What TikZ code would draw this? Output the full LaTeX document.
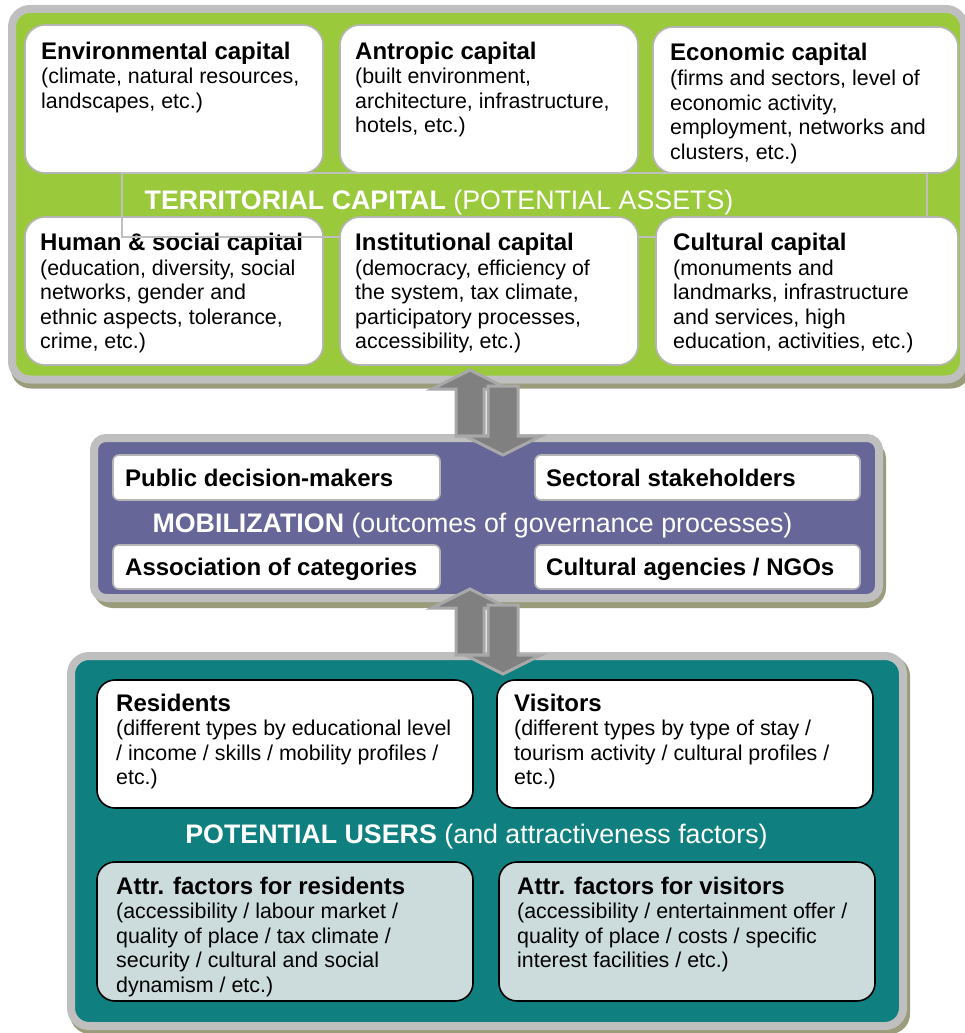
\documentclass[tikz,border=0pt]{standalone}
\usepackage{fontspec}
\setmainfont{Liberation Sans}
\definecolor{tgreen}{HTML}{9ACA3C}
\definecolor{tpurple}{HTML}{666699}
\definecolor{tteal}{HTML}{0F807F}
\definecolor{tgrey}{HTML}{BFBFBF}
\definecolor{tshadow}{HTML}{9A9C7B}
\definecolor{tboxline}{HTML}{B5B5B5}
\definecolor{tattr}{HTML}{CCDCDC}
\definecolor{tarrow}{HTML}{808080}
\definecolor{tarrowline}{HTML}{A8A8A8}
\newcommand\ttlf{\fontsize{24}{24.5}\selectfont\bfseries}
\newcommand\bdyf{\fontsize{21.4}{24.5}\selectfont\mdseries}
\newcommand\banf{\fontsize{26.8}{30}\selectfont}
\tikzset{
  panel/.style={draw=tgrey, line width=8pt, rounded corners=18pt, inner sep=0pt, outer sep=0pt},
  shadowp/.style={fill=tshadow, rounded corners=20pt, inner sep=0pt, outer sep=0pt},
  capbox/.style={draw=tboxline, line width=1.6pt, fill=white, rounded corners=20pt, inner sep=0pt},
  mobbox/.style={draw=tboxline, line width=1.6pt, fill=white, rounded corners=6pt, inner sep=0pt},
  userbox/.style={draw=black, line width=1.6pt, fill=white, rounded corners=18pt, inner sep=0pt},
  attrbox/.style={userbox, fill=tattr},
  txt/.style={anchor=base west, inner sep=0pt, align=left},
  bantxt/.style={anchor=base, inner sep=0pt, text=white},
  blockarrow/.style={fill=tarrow, draw=tarrowline, line width=3pt, line join=miter},
}
\begin{document}
\begin{tikzpicture}[x=1pt,y=-1pt]
\useasboundingbox (0,0) rectangle (965,1033);
% ---------- TOP PANEL ----------
\node[shadowp, minimum width=960pt, minimum height=378.5pt] (topsh) at (491,199.25) {};
\node[panel, fill=tgreen, minimum width=952pt, minimum height=370.5pt] (top) at (488,194.25) {};
\node[capbox, minimum width=298pt, minimum height=148pt] (env) at (174,99) {};
\node[capbox, minimum width=298pt, minimum height=148pt] (antr) at (489,99) {};
\node[capbox, minimum width=305pt, minimum height=146pt] (econ) at (805.5,100) {};
\node[capbox, minimum width=298pt, minimum height=148pt] (human) at (174,291) {};
\node[txt] (envT) at (41,59.5) {\parbox[t]{290pt}{\ttlf Environmental capital\\ \bdyf (climate, natural resources,\\ landscapes, etc.)}};
\node[txt] (antrT) at (355,59.5) {\parbox[t]{290pt}{\ttlf Antropic capital\\ \bdyf (built environment,\\ architecture, infrastructure,\\ hotels, etc.)}};
\node[txt] (econT) at (670,61) {\parbox[t]{290pt}{\ttlf Economic capital\\ \bdyf (firms and sectors, level of\\ economic activity,\\ employment, networks and\\ clusters, etc.)}};
\node[txt] (humanT) at (40,250.5) {\parbox[t]{290pt}{\ttlf Human \& social capital\\ \bdyf (education, diversity, social\\ networks, gender and\\ ethnic aspects, tolerance,\\ crime, etc.)}};
\draw[tgrey, line width=1.6pt] (122,173) rectangle (927,237);
\node[capbox, minimum width=298pt, minimum height=148pt] (inst) at (489,291) {};
\node[capbox, minimum width=302pt, minimum height=148pt] (cult) at (807,291) {};
\node[txt] (instT) at (355,250.5) {\parbox[t]{290pt}{\ttlf Institutional capital\\ \bdyf (democracy, efficiency of\\ the system, tax climate,\\ participatory processes,\\ accessibility, etc.)}};
\node[txt] (cultT) at (673,250.5) {\parbox[t]{290pt}{\ttlf Cultural capital\\ \bdyf (monuments and\\ landmarks, infrastructure\\ and services, high\\ education, activities, etc.)}};
\node[bantxt] (topT) at (439,209.5) {\banf\textbf{TERRITORIAL CAPITAL} (POTENTIAL ASSETS)};
% ---------- MOBILIZATION PANEL ----------
\node[shadowp, minimum width=793pt, minimum height=169pt] (mobsh) at (489.5,523.5) {};
\node[panel, fill=tpurple, rounded corners=12pt, minimum width=785pt, minimum height=160pt] (mob) at (486.5,518) {};
\node[mobbox, minimum width=327pt, minimum height=45pt] (pub) at (276.5,477.5) {};
\node[mobbox, minimum width=325pt, minimum height=45pt] (sect) at (697.5,477.5) {};
\node[mobbox, minimum width=327pt, minimum height=44pt] (assoc) at (276.5,567) {};
\node[mobbox, minimum width=325pt, minimum height=44pt] (agen) at (697.5,567) {};
\node[txt] (pubT) at (125,486) {\ttlf Public decision-makers};
\node[txt] (sectT) at (546,486) {\ttlf Sectoral stakeholders};
\node[txt] (assocT) at (125,575.5) {\ttlf Association of categories};
\node[txt] (agenT) at (546,575.5) {\ttlf Cultural agencies / NGOs};
\node[bantxt] (mobT) at (472.5,532) {\banf\textbf{MOBILIZATION} (outcomes of governance processes)};
% ---------- USERS PANEL ----------
\node[shadowp, minimum width=840pt, minimum height=378pt] (usrsh) at (490,845) {};
\node[panel, fill=tteal, minimum width=832pt, minimum height=370pt] (usr) at (487,841) {};
\node[userbox, minimum width=376pt, minimum height=128pt] (res) at (285,744) {};
\node[userbox, minimum width=376pt, minimum height=128pt] (vis) at (685,744) {};
\node[attrbox, minimum width=376pt, minimum height=139pt] (ares) at (285,931.5) {};
\node[attrbox, minimum width=376pt, minimum height=139pt] (avis) at (687,931.5) {};
\node[txt] (resT) at (116,711) {\parbox[t]{360pt}{\ttlf Residents\\ \bdyf (different types by educational level\\ / income / skills / mobility profiles /\\ etc.)}};
\node[txt] (visT) at (514,711) {\parbox[t]{360pt}{\ttlf Visitors\\ \bdyf (different types by type of stay /\\ tourism activity / cultural profiles /\\ etc.)}};
\node[txt] (aresT) at (116,894) {\parbox[t]{360pt}{\ttlf Attr. factors for residents\\ \bdyf (accessibility / labour market /\\ quality of place / tax climate /\\ security / cultural and social\\ dynamism / etc.)}};
\node[txt] (avisT) at (517,894) {\parbox[t]{360pt}{\ttlf Attr. factors for visitors\\ \bdyf (accessibility / entertainment offer /\\ quality of place / costs / specific\\ interest facilities / etc.)}};
\node[bantxt] (usrT) at (476.5,843.5) {\banf\textbf{POTENTIAL USERS} (and attractiveness factors)};
% ---------- BLOCK ARROWS ----------
\draw[blockarrow] (456,436) -- (456,389) -- (432,389) -- (470,370) -- (508,389) -- (484,389) -- (484,436) -- cycle;
\draw[blockarrow] (488,386) -- (518,386) -- (518,436) -- (541,436) -- (503,455) -- (465,436) -- (488,436) -- cycle;
\draw[blockarrow] (456,655) -- (456,608) -- (432,608) -- (470,589) -- (508,608) -- (484,608) -- (484,655) -- cycle;
\draw[blockarrow] (488,605) -- (518,605) -- (518,655) -- (541,655) -- (503,674) -- (465,655) -- (488,655) -- cycle;
\end{tikzpicture}
\end{document}
